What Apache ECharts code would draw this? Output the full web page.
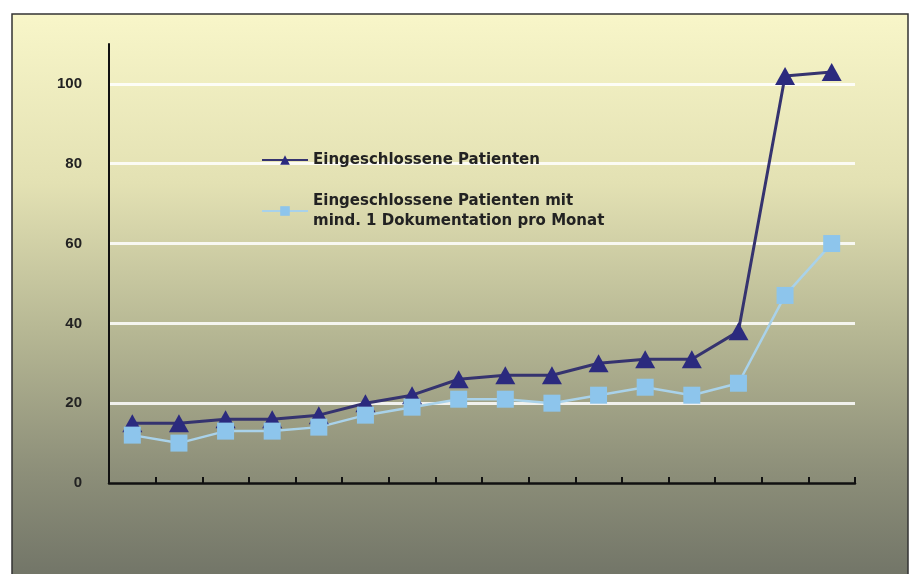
<!DOCTYPE html>
<html>
<head>
<meta charset="utf-8">
<script src="https://cdn.jsdelivr.net/npm/echarts@6/dist/echarts.min.js"></script>
<style>
  html, body { margin: 0; padding: 0; background: #fff; }
  #chart { width: 911px; height: 574px; }
</style>
</head>
<body>
<div id="chart"></div>
<script>
  // Monate 1..16 (keine Beschriftung an der x-Achse)
  const months = ['1', '2', '3', '4', '5', '6', '7', '8', '9', '10', '11', '12', '13', '14', '15', '16'];
  const included = [15, 15, 16, 16, 17, 20, 22, 26, 27, 27, 30, 31, 31, 38, 102, 103];
  const documented = [12, 10, 13, 13, 14, 17, 19, 21, 21, 20, 22, 24, 22, 25, 47, 60];
  const yTicks = [0, 20, 40, 60, 80, 100];

  const nameIncluded = 'Eingeschlossene Patienten';
  const nameDocumented = 'Eingeschlossene Patienten mit\nmind. 1 Dokumentation pro Monat';

  const chart = echarts.init(document.getElementById('chart'));

  chart.setOption({
    animation: false,
    textStyle: { fontFamily: 'DejaVu Sans' },
    graphic: [{
      type: 'rect',
      z: -10,
      silent: true,
      shape: { x: 12, y: 14, width: 896, height: 566 },
      style: {
        fill: new echarts.graphic.LinearGradient(0, 0, 0, 1, [
          { offset: 0, color: '#f8f6c9' },
          { offset: 0.3, color: '#e3e1b3' },
          { offset: 0.55, color: '#b8b995' },
          { offset: 0.8, color: '#8e907a' },
          { offset: 1, color: '#717467' }
        ]),
        stroke: '#333',
        lineWidth: 1.5
      }
    }],
    grid: { left: 109, right: 56, top: 44, bottom: 91 },
    legend: {
      orient: 'vertical',
      left: 256,
      top: 145,
      itemWidth: 46,
      itemHeight: 12,
      itemGap: 11,
      textStyle: { fontFamily: 'DejaVu Sans', fontSize: 15, fontWeight: 'bold', color: '#222', lineHeight: 20 },
      data: [
        { name: nameIncluded },
        { name: nameDocumented, textStyle: { padding: [20, 0, 0, 0] } }
      ]
    },
    xAxis: {
      type: 'category',
      data: months,
      boundaryGap: true,
      axisLine: { show: true, lineStyle: { color: '#111', width: 2.5 } },
      axisTick: { show: true, interval: 0, inside: true, length: 6, lineStyle: { color: '#111', width: 2 } },
      axisLabel: { show: false },
      splitLine: { show: false }
    },
    yAxis: {
      type: 'value',
      min: 0,
      max: 110,
      interval: 20,
      axisLine: { show: true, lineStyle: { color: '#111', width: 2 } },
      axisTick: { show: false },
      axisLabel: {
        margin: 27,
        showMaxLabel: false,
        fontFamily: 'Liberation Sans',
        fontSize: 15,
        fontWeight: 'bold',
        color: '#222',
        formatter: v => yTicks.indexOf(v) >= 0 ? String(v) : ''
      },
      splitLine: {
        show: true,
        showMinLine: false,
        showMaxLine: false,
        lineStyle: { color: 'rgba(255,255,255,0.85)', width: 3 }
      }
    },
    series: [
      {
        name: nameIncluded,
        type: 'line',
        data: included,
        symbol: 'triangle',
        symbolSize: [20, 18],
        itemStyle: { color: '#2b2a7e' },
        lineStyle: { color: '#35336f', width: 3 }
      },
      {
        name: nameDocumented,
        type: 'line',
        data: documented,
        symbol: 'rect',
        symbolSize: [17, 17],
        itemStyle: { color: '#8dc5ec' },
        lineStyle: { color: '#a9d2ea', width: 2.5 }
      }
    ]
  });
</script>
</body>
</html>
